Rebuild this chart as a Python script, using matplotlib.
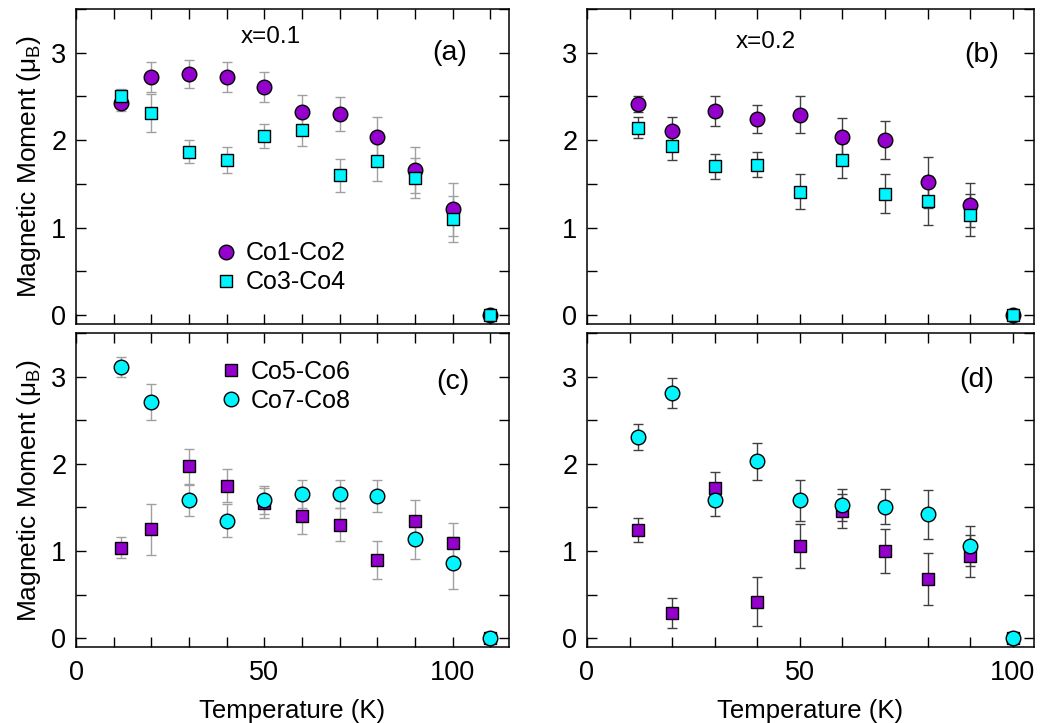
import matplotlib
matplotlib.use("Agg")
import matplotlib.pyplot as plt
from matplotlib.lines import Line2D
from matplotlib.ticker import MultipleLocator

plt.rcParams['font.family'] = ['Liberation Sans', 'DejaVu Sans']
plt.rcParams['mathtext.fontset'] = 'custom'
plt.rcParams['mathtext.rm'] = 'Liberation Sans'
plt.rcParams['mathtext.it'] = 'Liberation Sans'

PURPLE = '#9400CC'
CYAN = '#00F5FF'

# ---- x = 0.1 ----
temp_a = [12, 20, 30, 40, 50, 60, 70, 80, 90, 100, 110]
co12_a = [2.43, 2.72, 2.76, 2.72, 2.61, 2.32, 2.30, 2.04, 1.66, 1.21, 0.0]
co12_a_err = [0.10, 0.17, 0.16, 0.17, 0.17, 0.20, 0.19, 0.23, 0.26, 0.30, 0.0]
co34_a = [2.50, 2.31, 1.87, 1.77, 2.05, 2.12, 1.60, 1.76, 1.57, 1.10, 0.0]
co34_a_err = [0.09, 0.22, 0.13, 0.15, 0.14, 0.19, 0.19, 0.23, 0.23, 0.26, 0.0]

# ---- x = 0.2 ----
temp_b = [12, 20, 30, 40, 50, 60, 70, 80, 90, 100]
co12_b = [2.41, 2.10, 2.33, 2.24, 2.29, 2.04, 2.00, 1.52, 1.26, 0.0]
co12_b_err = [0.09, 0.16, 0.17, 0.16, 0.21, 0.21, 0.22, 0.29, 0.25, 0.0]
co34_b = [2.14, 1.93, 1.70, 1.72, 1.41, 1.77, 1.39, 1.31, 1.14, 0.0]
co34_b_err = [0.12, 0.16, 0.14, 0.14, 0.20, 0.20, 0.22, 0.28, 0.24, 0.0]

# ---- x = 0.1, Co5-Co8 ----
co56_c = [1.04, 1.25, 1.97, 1.75, 1.55, 1.40, 1.30, 0.90, 1.35, 1.09, 0.0]
co56_c_err = [0.12, 0.29, 0.20, 0.19, 0.17, 0.20, 0.19, 0.22, 0.23, 0.23, 0.0]
co78_c = [3.11, 2.71, 1.58, 1.35, 1.59, 1.65, 1.65, 1.63, 1.14, 0.86, 0.0]
co78_c_err = [0.11, 0.21, 0.18, 0.19, 0.16, 0.16, 0.16, 0.18, 0.23, 0.30, 0.0]

# ---- x = 0.2, Co5-Co8 ----
co56_d = [1.24, 0.29, 1.72, 0.42, 1.06, 1.46, 1.00, 0.68, 0.94, 0.0]
co56_d_err = [0.14, 0.17, 0.19, 0.28, 0.25, 0.20, 0.25, 0.30, 0.24, 0.0]
co78_d = [2.31, 2.81, 1.58, 2.03, 1.58, 1.53, 1.51, 1.42, 1.06, 0.0]
co78_d_err = [0.15, 0.17, 0.18, 0.21, 0.23, 0.18, 0.20, 0.28, 0.23, 0.0]

FS = 18
MS_CIRC = 10.5
MS_SQ = 9

fig = plt.figure(figsize=(10.4, 7.23), dpi=100)
ax_a = fig.add_axes([0.0731, 0.5519, 0.4163, 0.4357])
ax_b = fig.add_axes([0.5644, 0.5519, 0.4298, 0.4357])
ax_c = fig.add_axes([0.0731, 0.1051, 0.4163, 0.4343])
ax_d = fig.add_axes([0.5644, 0.1051, 0.4298, 0.4343])


def series(ax, x, y, err, marker, face, ecolor, ms):
    ax.errorbar(x, y, yerr=err, fmt=marker, mfc=face, mec='black', mew=1.0,
                ms=ms, ecolor=ecolor, elinewidth=1.0, capsize=3.5, capthick=1.0,
                zorder=3)


def legend_handle(marker, face, ms, label):
    return Line2D([], [], ls='none', marker=marker, mfc=face, mec='black',
                  mew=1.0, ms=ms, label=label)


series(ax_a, temp_a, co12_a, co12_a_err, 'o', PURPLE, '#a0a0a0', MS_CIRC)
series(ax_a, temp_a, co34_a, co34_a_err, 's', CYAN, '#a0a0a0', MS_SQ)
series(ax_b, temp_b, co12_b, co12_b_err, 'o', PURPLE, '#404040', MS_CIRC)
series(ax_b, temp_b, co34_b, co34_b_err, 's', CYAN, '#404040', MS_SQ)
series(ax_c, temp_a, co56_c, co56_c_err, 's', PURPLE, '#a0a0a0', MS_SQ)
series(ax_c, temp_a, co78_c, co78_c_err, 'o', CYAN, '#a0a0a0', MS_CIRC)
series(ax_d, temp_b, co56_d, co56_d_err, 's', PURPLE, '#404040', MS_SQ)
series(ax_d, temp_b, co78_d, co78_d_err, 'o', CYAN, '#404040', MS_CIRC)

for ax, xmax in [(ax_a, 115), (ax_c, 115), (ax_b, 105), (ax_d, 105)]:
    ax.set_xlim(0, xmax)
    ax.set_ylim(-0.1, 3.5)
    ax.xaxis.set_major_locator(MultipleLocator(50))
    ax.xaxis.set_minor_locator(MultipleLocator(10))
    ax.yaxis.set_major_locator(MultipleLocator(1))
    ax.yaxis.set_minor_locator(MultipleLocator(0.5))
    ax.tick_params(which='both', direction='in', top=True, right=True,
                   length=7, width=1.0, labelsize=19.5)
    ax.tick_params(axis='x', pad=9)
    ax.tick_params(axis='y', pad=7)
    for sp in ax.spines.values():
        sp.set_linewidth(1.1)

for ax in (ax_a, ax_b):
    ax.tick_params(labelbottom=False)

for ax in (ax_c, ax_d):
    ax.set_xlabel('Temperature (K)', fontsize=18.5, labelpad=10)

for ax in (ax_a, ax_c):
    ax.set_ylabel(r'Magnetic Moment ($\mu_\mathrm{B}$)', fontsize=19, labelpad=6)

ax_a.text(0.45, 0.91, 'x=0.1', transform=ax_a.transAxes, fontsize=17.5,
          ha='center', va='center')
ax_b.text(0.40, 0.896, 'x=0.2', transform=ax_b.transAxes, fontsize=17.5,
          ha='center', va='center')

for ax, lab, (px, py) in [(ax_a, '(a)', (0.862, 0.86)), (ax_b, '(b)', (0.882, 0.854)),
                          (ax_c, '(c)', (0.87, 0.844)), (ax_d, '(d)', (0.872, 0.85))]:
    ax.text(px, py, lab, transform=ax.transAxes, fontsize=20.5, ha='center', va='center')

leg_kw = dict(loc='center left', frameon=False, fontsize=FS, handletextpad=0.4,
              labelspacing=0.2, borderpad=0, borderaxespad=0, handlelength=0.8)
ax_a.legend(handles=[legend_handle('o', PURPLE, MS_CIRC, 'Co1-Co2'),
                     legend_handle('s', CYAN, MS_SQ, 'Co3-Co4')],
            bbox_to_anchor=(0.323, 0.178), **leg_kw)
ax_c.legend(handles=[legend_handle('s', PURPLE, MS_SQ, 'Co5-Co6'),
                     legend_handle('o', CYAN, MS_CIRC, 'Co7-Co8')],
            bbox_to_anchor=(0.334, 0.831), **leg_kw)

fig.savefig('out.png', dpi=100)
